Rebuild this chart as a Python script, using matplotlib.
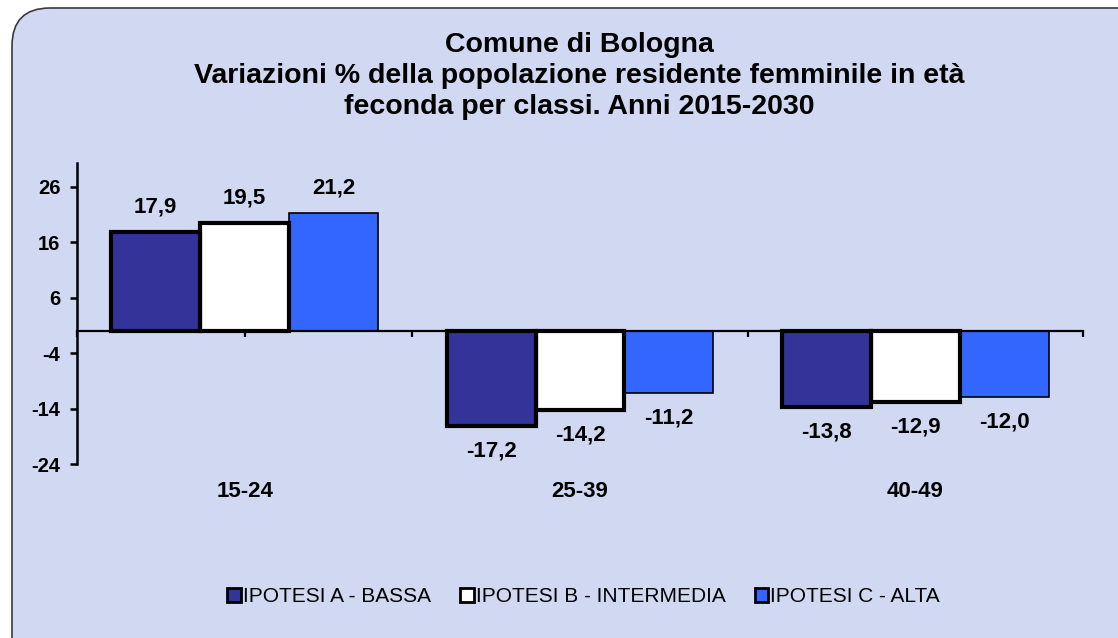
import numpy as np
import matplotlib
matplotlib.use('Agg')
from matplotlib import pyplot as plt
from matplotlib.patches import FancyBboxPatch, Patch
from matplotlib.transforms import IdentityTransform, blended_transform_factory

categories = ['15-24', '25-39', '40-49']
series_names = ['IPOTESI A - BASSA', 'IPOTESI B - INTERMEDIA', 'IPOTESI C - ALTA']
bassa = [17.9, -17.2, -13.8]
intermedia = [19.5, -14.2, -12.9]
alta = [21.2, -11.2, -12.0]
y_ticks = [-24, -14, -4, 6, 16, 26]

colors = ['#333399', '#ffffff', '#3366ff']
edge_widths = [3.0, 3.0, 1.2]

plt.rcParams['font.family'] = ['Liberation Sans', 'DejaVu Sans']

fig = plt.figure(figsize=(11.18, 6.38), dpi=100)
fig.patch.set_facecolor('white')

# Rounded chart frame (pixel coords, only top-left corner visible)
frame = FancyBboxPatch((12, -60), 1250, 690, boxstyle='round,pad=0,rounding_size=38',
                       transform=IdentityTransform(), facecolor='#d0d8f2',
                       edgecolor='#3a3a3a', linewidth=1.2, zorder=-5)
fig.patches.append(frame)

ax = fig.add_axes([77 / 1118, 1 - 464 / 638, (1083 - 77) / 1118, (464 - 163) / 638])
ax.set_facecolor('none')
ax.set_zorder(2)

x = np.arange(len(categories))
w = 0.265
for i, vals in enumerate([bassa, intermedia, alta]):
    pos = x + (i - 1) * w
    ax.bar(pos, vals, width=w, color=colors[i], edgecolor='black',
           linewidth=edge_widths[i], zorder=3 - i * 0.1)
    for px, v in zip(pos, vals):
        off = 18 if v > 0 else -18
        ax.annotate(f'{v:.1f}'.replace('.', ','), (px, v), xytext=(0, off),
                    textcoords='offset points', ha='center', va='center',
                    fontsize=16, fontweight='bold')

ax.set_xlim(-0.5, 2.5)
ax.set_ylim(-24, 30.3)

for s in ['top', 'right']:
    ax.spines[s].set_visible(False)
ax.spines['bottom'].set_position(('data', 0))
ax.spines['bottom'].set_linewidth(1.6)
ax.spines['left'].set_linewidth(1.8)
ax.spines['bottom'].set_zorder(5)

ax.set_yticks(y_ticks)
ax.set_yticklabels([str(t) for t in y_ticks], fontsize=14.5, fontweight='bold')
ax.tick_params(axis='y', direction='out', length=5, width=1.8, pad=7)
ax.set_xticks(np.arange(-0.5, 2.51, 0.5))
ax.set_xticklabels([])
ax.tick_params(axis='x', direction='out', length=4, width=1.6)

trans = blended_transform_factory(ax.transData, ax.transAxes)
for xi, c in zip(x, categories):
    ax.text(xi, -0.093, c, transform=trans, ha='center', va='center',
            fontsize=16, fontweight='bold')

fig.text(0.518, 1 - 76 / 638,
         'Comune di Bologna\nVariazioni % della popolazione residente femminile in età\n'
         'feconda per classi. Anni 2015-2030',
         ha='center', va='center', fontsize=20.5, fontweight='bold', linespacing=1.25)

handles = [Patch(facecolor=c, edgecolor='black', linewidth=2) for c in colors]
fig.legend(handles, series_names, loc='center', bbox_to_anchor=(0.522, 1 - 597 / 638),
           ncol=3, frameon=False, handlelength=0.65, handleheight=0.65,
           handletextpad=0.1, columnspacing=1.4, prop={'size': 15})

fig.savefig('out.png', dpi=100, facecolor=fig.get_facecolor())
